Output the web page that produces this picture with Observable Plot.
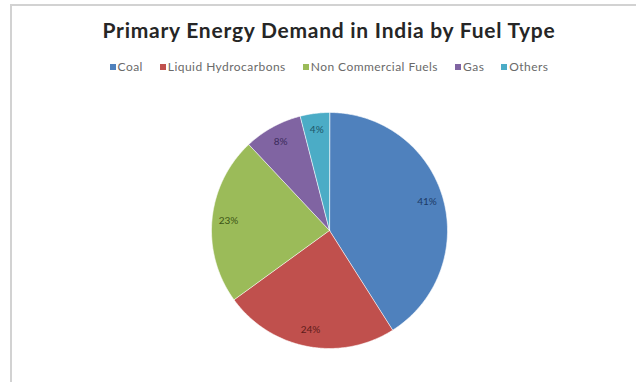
<!DOCTYPE html>
<html>
<head>
<meta charset="utf-8">
<script src="https://cdn.jsdelivr.net/npm/d3@7"></script>
<script src="https://cdn.jsdelivr.net/npm/@observablehq/plot@0.6"></script>
<style>
  html, body { margin: 0; padding: 0; background: #fff; }
  #wrap { position: relative; width: 636px; height: 382px; overflow: hidden; background: #fff; }
  #title { position: absolute; left: 11px; width: 636px; top: 17px; text-align: center;
           font-family: Lato, "Open Sans", sans-serif; font-weight: bold; font-size: 21px;
           color: #262626; line-height: 26px; white-space: nowrap; letter-spacing: 0.75px; }
  #legend { position: absolute; left: 11px; width: 636px; top: 60px; display: flex; justify-content: center;
            gap: 17px; font-family: Lato, sans-serif; font-size: 12px; color: #6a6a6a; line-height: 14px; letter-spacing: 0.45px; }
  #legend .item { display: flex; align-items: center; white-space: nowrap; }
  #legend .sw { width: 6px; height: 6px; margin-right: 2px; display: inline-block; }
  #chart { position: absolute; left: 0; top: 90px; }
  .fr { position: absolute; background: #d2d2d2; }
</style>
</head>
<body>
<div id="wrap">
  <div id="chart"></div>
  <div id="title"></div>
  <div id="legend"></div>
  <div class="fr" style="left:10px; top:4px; right:0; height:2px;"></div>
  <div class="fr" style="left:10px; top:4px; bottom:0; width:2px;"></div>
</div>
<script>
const title = "Primary Energy Demand in India by Fuel Type";
const fuels = ["Coal", "Liquid Hydrocarbons", "Non Commercial Fuels", "Gas", "Others"];
const shares = [41, 24, 23, 8, 4];
const pctLabels = ["41%", "24%", "23%", "8%", "4%"];
const sliceColors = ["#4F81BD", "#C0504D", "#9BBB59", "#8064A2", "#4BACC6"];
const labelColors = ["#1c3a66", "#5e1c1a", "#3b5416", "#3a2a5a", "#1d5566"];

document.getElementById("title").textContent = title;

const legend = document.getElementById("legend");
fuels.forEach((f, i) => {
  const it = document.createElement("span");
  it.className = "item";
  const sw = document.createElement("span");
  sw.className = "sw";
  sw.style.background = sliceColors[i];
  it.appendChild(sw);
  it.appendChild(document.createTextNode(f));
  legend.appendChild(it);
});

const rows = fuels.map((f, i) => ({fuel: f, share: shares[i], label: pctLabels[i], i}));
const arcs = d3.pie().sort(null).value(d => d.share)(rows);

// slice outlines (geometry derived from the pie layout)
const pts = [];
arcs.forEach(a => {
  pts.push({fuel: a.data.fuel, x: 0, y: 0});
  const n = Math.max(2, Math.ceil((a.endAngle - a.startAngle) / 0.01));
  for (let k = 0; k <= n; k++) {
    const t = a.startAngle + (a.endAngle - a.startAngle) * k / n;
    pts.push({fuel: a.data.fuel, x: Math.sin(t), y: Math.cos(t)});
  }
});

const labelR = 0.86;
const labelPts = arcs.map(a => {
  const m = (a.startAngle + a.endAngle) / 2;
  return {label: a.data.label, i: a.data.i, x: labelR * Math.sin(m), y: labelR * Math.cos(m)};
});

const R = 118, W = 636, H = 292, cx = 329, cy = 140;

const plot = Plot.plot({
  width: W, height: H, margin: 0,
  style: {background: "transparent"},
  x: {axis: null, domain: [-cx / R, (W - cx) / R]},
  y: {axis: null, domain: [-(H - cy) / R, cy / R]},
  color: {domain: fuels, range: sliceColors},
  marks: [
    Plot.line(pts, {x: "x", y: "y", z: "fuel", fill: "fuel", stroke: "#ffffff", strokeWidth: 0.6, curve: "linear-closed"}),
    ...labelPts.map(d => Plot.text([d], {x: "x", y: "y", text: "label", fill: labelColors[d.i],
      fontSize: 10, fontFamily: "Lato, sans-serif"}))
  ]
});
document.getElementById("chart").appendChild(plot);
</script>
</body>
</html>
